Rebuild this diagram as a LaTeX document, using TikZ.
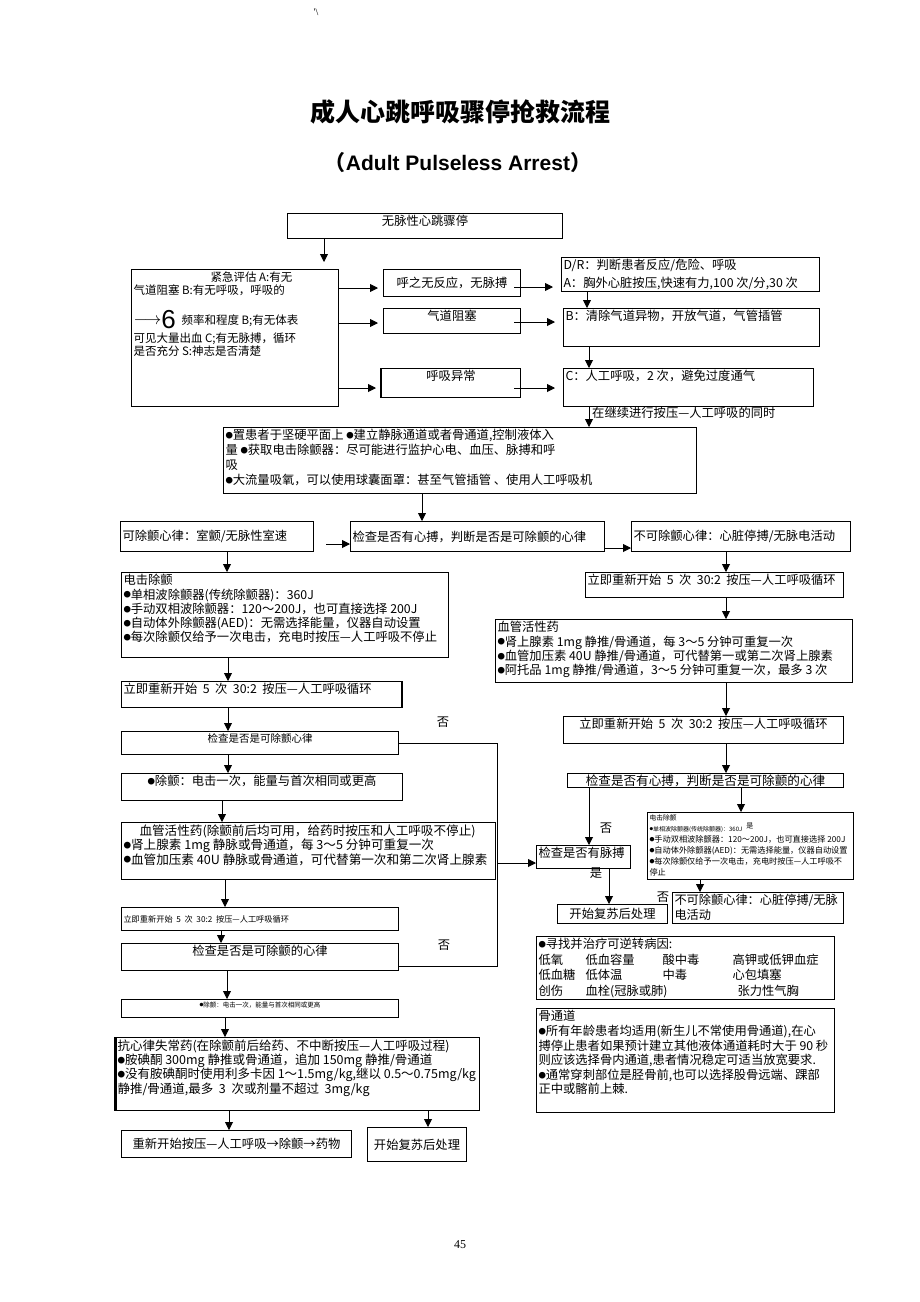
\documentclass[tikz,border=0pt]{standalone}
\usepackage{fontspec}
\usepackage{graphicx}
\setmainfont{Noto Sans CJK SC}
\newfontfamily\latinfont{Liberation Sans}
\newfontfamily\numfont{Liberation Serif}
\usetikzlibrary{arrows.meta}

\tikzset{
  panel/.style={draw, line width=1pt, inner sep=2pt, anchor=north west,
    font=\fontsize{12.3}{14.5}\selectfont},
  arr/.style={line width=0.9pt, -{Triangle[length=8pt,width=8pt]}},
  tag/.style={inner sep=0pt, font=\fontsize{12.3}{14}\selectfont},
}
\newcommand{\bul}{\raisebox{0.1em}{\scalebox{0.6}{●}}}
% box from (x1,y1) to (x2,y2), text set t or c inside
\newcommand{\panel}[8][]{%
  \node[panel,#1] (#2) at (#3,#4)
    {\parbox[t][\dimexpr#6pt-#4pt-4pt\relax][#7]{\dimexpr#5pt-#3pt-4pt\relax}{#8}};}

\begin{document}
\begin{tikzpicture}[x=1pt, y=-1pt]
\useasboundingbox (0,0) rectangle (920,1302);
\node (stroke) at (316,12) {\numfont\fontsize{10}{10}\selectfont '\textbackslash};
\node (title) at (460,112) {\fontsize{25}{25}\selectfont\bfseries 成人心跳呼吸骤停抢救流程};
\node (subtitle) at (458,163) {\fontsize{21}{21}\selectfont\bfseries （{\latinfont Adult Pulseless Arrest}）};
\node (pageno) at (460,1245) {\numfont\fontsize{12}{12}\selectfont 45};

% assessment
\panel{start}{287}{213}{562}{238}{t}{\centering 无脉性心跳骤停}
\panel[font=\fontsize{11.5}{13}\selectfont]{assess}{131}{269}{338}{406}{t}{%
\hspace*{77pt}紧急评估 A:有无\\
气道阻塞 B:有无呼吸，呼吸的\\[14pt]
{\fontsize{18}{18}\selectfont$\longrightarrow$}\raisebox{-4pt}{\fontsize{26}{26}\selectfont\latinfont 6}\enspace 频率和程度 B;有无体表\\[3pt]
可见大量出血 C;有无脉搏，循环\\
是否充分 S:神志是否清楚}
\panel{resp}{383}{269}{520}{296}{c}{\centering 呼之无反应，无脉搏}
\panel{airway}{383}{308}{520}{333}{t}{\centering 气道阻塞}
\panel{breath}{381}{368}{520}{397}{t}{\centering 呼吸异常}
\panel[font=\fontsize{12.3}{18}\selectfont]{dr}{561}{257}{819}{291}{t}{D/R：判断患者反应/危险、呼吸\\A：胸外心脏按压,快速有力,100 次/分,30 次}
\panel{bbox}{563}{308}{819}{346}{t}{B：清除气道异物，开放气道，气管插管}
\panel{cbox}{563}{368}{813}{406}{t}{C：人工呼吸，2 次，避免过度通气}
\node[tag, anchor=west] (keepon) at (592,413) {在继续进行按压—人工呼吸的同时};
\panel[font=\fontsize{12.3}{15}\selectfont]{prep}{223}{427}{696}{493}{t}{%
\bul 置患者于坚硬平面上 \bul 建立静脉通道或者骨通道,控制液体入\\
量 \bul 获取电击除颤器：尽可能进行监护心电、血压、脉搏和呼\\
吸\\
\bul 大流量吸氧，可以使用球囊面罩：甚至气管插管 、使用人工呼吸机}

% rhythm check
\panel{shock}{120}{521}{313}{551}{c}{可除颤心律：室颤/无脉性室速}
\panel{check1}{350}{521}{604}{551}{c}{检查是否有心搏，判断是否是可除颤的心律}
\panel{noshock}{631}{521}{850}{551}{c}{不可除颤心律：心脏停搏/无脉电活动}

% left column
\panel[font=\fontsize{12.3}{14.2}\selectfont]{defib}{121}{572}{448}{657}{t}{电击除颤\\
\bul 单相波除颤器(传统除颤器)：360J\\
\bul 手动双相波除颤器：120～200J，也可直接选择 200J\\
\bul 自动体外除颤器(AED)：无需选择能量，仪器自动设置\\
\bul 每次除颤仅给予一次电击，充电时按压—人工呼吸不停止}
\panel{cycleL1}{121}{681}{401}{707}{t}{立即重新开始~~5~~次~~30:2~~按压—人工呼吸循环}
\panel[font=\fontsize{10.5}{12}\selectfont]{rhythm1}{121}{731}{398}{754}{t}{\centering 检查是否是可除颤心律}
\panel{shockL2}{121}{773}{402}{800}{t}{\centering \bul 除颤：电击一次，能量与首次相同或更高}
\panel[font=\fontsize{12.6}{14.5}\selectfont]{vasoL}{121}{822}{495}{879}{t}{%
\hspace*{16pt}血管活性药(除颤前后均可用，给药时按压和人工呼吸不停止)\\
\bul 肾上腺素 1mg 静脉或骨通道，每 3～5 分钟可重复一次\\
\bul 血管加压素 40U 静脉或骨通道，可代替第一次和第二次肾上腺素}
\panel[font=\fontsize{8.2}{10}\selectfont]{cycleL2}{121}{907}{398}{930}{c}{立即重新开始~~5~~次~~30:2~~按压—人工呼吸循环}
\panel{rhythm2}{121}{943}{398}{970}{t}{\centering 检查是否是可除颤的心律}
\panel[font=\fontsize{6.5}{8}\selectfont]{shockL3}{121}{999}{398}{1017}{t}{\centering \bul 除颤：电击一次，能量与首次相同或更高}
\panel[font=\fontsize{12.5}{14.3}\selectfont]{anti}{115}{1037}{479}{1110}{t}{%
抗心律失常药(在除颤前后给药、不中断按压—人工呼吸过程)\\
\bul 胺碘酮 300mg 静推或骨通道，追加 150mg 静推/骨通道\\
\bul 没有胺碘酮时使用利多卡因 1～1.5mg/kg,继以 0.5～0.75mg/kg\\
静推/骨通道,最多~~3~~次或剂量不超过~~3mg/kg}
\panel{restart}{121}{1130}{351}{1157}{c}{\centering 重新开始按压—人工呼吸→除颤→药物}
\panel{postL}{367}{1127}{466}{1161}{c}{\centering 开始复苏后处理}

% right column
\panel{cycleR1}{585}{572}{843}{597}{t}{立即重新开始~~5~~次~~30:2~~按压—人工呼吸循环}
\panel[font=\fontsize{12.3}{14.2}\selectfont]{vasoR}{495}{619}{852}{682}{t}{血管活性药\\
\bul 肾上腺素 1mg 静推/骨通道，每 3～5 分钟可重复一次\\
\bul 血管加压素 40U 静推/骨通道，可代替第一或第二次肾上腺素\\
\bul 阿托品 1mg 静推/骨通道，3～5 分钟可重复一次，最多 3 次}
\panel{cycleR2}{563}{716}{843}{743}{t}{\centering 立即重新开始~~5~~次~~30:2~~按压—人工呼吸循环}
\panel[font=\fontsize{12.6}{14}\selectfont]{checkR}{567}{773}{843}{787}{c}{\centering 检查是否有心搏，判断是否是可除颤的心律}
\panel[font=\fontsize{8.2}{11}\selectfont]{shockR}{647}{812}{853}{879}{t}{%
{\fontsize{6.8}{8}\selectfont 电击除颤}\\
{\fontsize{6}{8}\selectfont\bul 单相波除颤器(传统除颤器)：360J}\hspace{4pt}\raisebox{3pt}{\fontsize{7}{8}\selectfont 是}\\
\bul 手动双相波除颤器：120～200J，也可直接选择 200J\\
\bul 自动体外除颤器(AED)：无需选择能量，仪器自动设置\\
\bul 每次除颤仅给予一次电击，充电时按压—人工呼吸不\\
停止}
\panel{pulse}{536}{845}{630}{868}{t}{检查是否有脉搏}
\panel{postR}{557}{904}{667}{923}{c}{\centering 开始复苏后处理}
\panel[font=\fontsize{12.2}{15}\selectfont]{noshock2}{672}{892}{843}{923}{t}{不可除颤心律：心脏停搏/无脉\\电活动}
\panel[font=\fontsize{12.3}{15.5}\selectfont]{causes}{536}{936}{834}{999}{t}{\bul 寻找并治疗可逆转病因:\\
\makebox[47pt][l]{低氧}\makebox[77pt][l]{低血容量}\makebox[70pt][l]{酸中毒}高钾或低钾血症\\
\makebox[47pt][l]{低血糖}\makebox[77pt][l]{低体温}\makebox[70pt][l]{中毒}心包填塞\\
\makebox[47pt][l]{创伤}\makebox[152pt][l]{血栓(冠脉或肺)}张力性气胸}
\panel[font=\fontsize{12.3}{14.6}\selectfont]{io}{536}{1008}{834}{1112}{t}{骨通道\\
\bul 所有年龄患者均适用(新生儿不常使用骨通道),在心\\
搏停止患者如果预计建立其他液体通道耗时大于 90 秒\\
则应该选择骨内通道,患者情况稳定可适当放宽要求.\\
\bul 通常穿刺部位是胫骨前,也可以选择股骨远端、踝部\\
正中或髂前上棘.}

% heavy edges
\draw[line width=2.5pt] (breath.north west) -- (breath.south west);
\draw[line width=2.5pt] (cycleL1.north east) -- (cycleL1.south east);
\draw[line width=3pt] (anti.north west) -- (anti.south west);

\node[tag] (no1) at (443,722) {否};
\node[tag] (no2) at (444,945) {否};
\node[tag] (no3) at (606,828) {否};
\node[tag] (no4) at (663,897) {否};
\node[tag] (yes1) at (596,873) {是};

% connectors
\draw[arr, shorten >=7pt] (start.south -| 324,0) -- (assess.north -| 324,0);
\foreach \a/\b/\y in {assess/resp/288, assess/airway/323, assess/breath/388}
  \draw[arr, shorten >=5pt] (\a.east |- 0,\y) -- (\b.west |- 0,\y);
\foreach \a/\b/\y in {resp/dr/287, airway/bbox/322, breath/cbox/388}
  \draw[arr, shorten <=-7pt, shorten >=8pt] (\a.east |- 0,\y) -- (\b.west |- 0,\y);
\draw[arr, shorten <=12pt] (shock.east |- 0,544) -- (check1.west |- 0,544);
\draw[arr] (check1.east |- 0,548) -- (noshock.west |- 0,548);
\foreach \a/\b/\x in {shock/defib/227, defib/cycleL1/228, cycleL1/rhythm1/228, rhythm1/shockL2/228,
    shockL2/vasoL/222, vasoL/cycleL2/225, cycleL2/rhythm2/221, rhythm2/shockL3/227,
    shockL3/anti/225, anti/restart/229, anti/postL/428}
  \draw[arr] (\a.south -| \x,0) -- (\b.north -| \x,0);
\foreach \a/\b/\x in {dr/bbox/587, bbox/cbox/589, cbox/prep/589, prep/check1/422,
    noshock/cycleR1/726, cycleR1/vasoR/726, vasoR/cycleR2/726, cycleR2/checkR/726,
    checkR/pulse/589, checkR/shockR/741, shockR/noshock2/700, pulse/postR/609}
  \draw[arr] (\a.south -| \x,0) -- (\b.north -| \x,0);
\coordinate (busTop) at (497,743);
\coordinate (busBot) at (497,966);
\draw[line width=0.9pt] (rhythm1.east |- busTop) -- (busTop) -- (busBot) -- (rhythm2.east |- busBot);
\draw[arr] (busTop |- 0,863) -- (pulse.west |- 0,863);
\end{tikzpicture}
\end{document}
